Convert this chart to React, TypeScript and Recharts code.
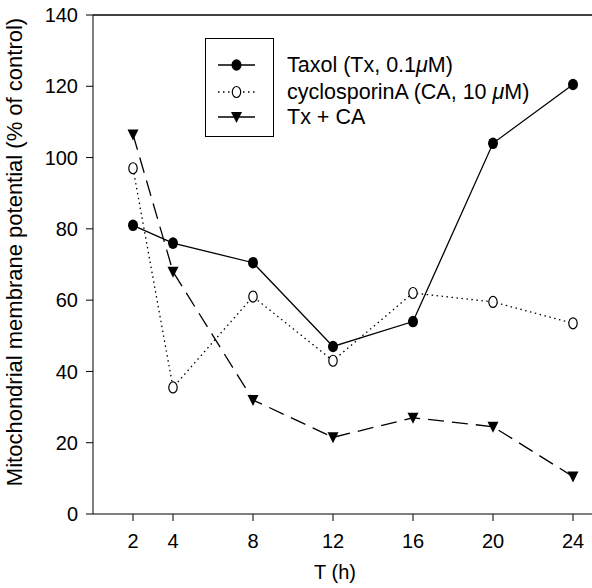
import React from "react";
import { LineChart, Line, XAxis, YAxis, ReferenceLine } from "recharts";

// time points (h) and the three series, % of control
const hours = [2, 4, 8, 12, 16, 20, 24];
const taxol = [81, 76, 70.5, 47, 54, 104, 120.5];
const cyclosporin = [97, 35.5, 61, 43, 62, 59.5, 53.5];
const combined = [106.5, 68, 32, 21.5, 27, 24.5, 10.5];

const xTicks = [2, 4, 8, 12, 16, 20, 24];
const yTicks = [0, 20, 40, 60, 80, 100, 120, 140];
const legendLabels = ["Taxol (Tx, 0.1μM)", "cyclosporinA (CA, 10 μM)", "Tx + CA"];

const data = hours.map((h, i) => ({
  h,
  taxol: taxol[i],
  ca: cyclosporin[i],
  txca: combined[i],
}));

const FONT = "'Liberation Sans', Arial, Helvetica, sans-serif";

const FilledDot = (props: any) => {
  const { cx, cy } = props;
  if (cx == null || cy == null) return null;
  return <ellipse cx={cx} cy={cy} rx={5} ry={5.8} fill="#000" />;
};

const OpenDot = (props: any) => {
  const { cx, cy } = props;
  if (cx == null || cy == null) return null;
  return (
    <ellipse cx={cx} cy={cy} rx={4.2} ry={5.5} fill="#fff" stroke="#000" strokeWidth={1.2} />
  );
};

const TriangleDot = (props: any) => {
  const { cx, cy } = props;
  if (cx == null || cy == null) return null;
  return (
    <path
      d={`M${cx - 5.5},${cy - 5} L${cx + 5.5},${cy - 5} L${cx},${cy + 6} Z`}
      fill="#000"
    />
  );
};

// split on μ so it can be set in italics like the original
const renderLabel = (s: string) =>
  s.split("μ").map((part, i) => (
    <React.Fragment key={i}>
      {i > 0 && <tspan fontStyle="italic">μ</tspan>}
      <tspan>{part}</tspan>
    </React.Fragment>
  ));

const LegendBox = () => {
  const rows = [
    { dash: undefined, marker: (x: number, y: number) => <FilledDot cx={x} cy={y} /> },
    { dash: "1.5 3.5", marker: (x: number, y: number) => <OpenDot cx={x} cy={y} /> },
    { dash: undefined, marker: (x: number, y: number) => <TriangleDot cx={x} cy={y} /> },
  ];
  const rowY = [65, 92, 117];
  return (
    <svg
      width={592}
      height={588}
      style={{ position: "absolute", left: 0, top: 0, pointerEvents: "none" }}
    >
      <rect x={205.5} y={38.5} width={68} height={98} fill="#fff" stroke="#000" strokeWidth={1} />
      {rows.map((r, i) => (
        <g key={i}>
          <line
            x1={218}
            x2={255}
            y1={rowY[i]}
            y2={rowY[i]}
            stroke="#000"
            strokeWidth={1.3}
            strokeDasharray={r.dash}
          />
          {r.marker(236.5, rowY[i])}
          <text x={287} y={rowY[i] + 7} fontSize={21.5} fontFamily={FONT} fill="#000">
            {renderLabel(legendLabels[i])}
          </text>
        </g>
      ))}
    </svg>
  );
};

export default function App() {
  return (
    <div style={{ position: "absolute", left: 0, top: 0, width: 592, height: 588, overflow: "hidden", background: "#fff" }}>
      <LineChart
        width={600}
        height={588}
        data={data}
        margin={{ top: 15, right: 7, left: 0, bottom: 0 }}
        style={{ fontFamily: FONT }}
      >
        <XAxis
          dataKey="h"
          type="number"
          domain={[0, 25]}
          ticks={xTicks}
          height={74}
          tickSize={7}
          tickMargin={13}
          stroke="#000"
          tick={{ fill: "#000", fontSize: 20 }}
          label={{
            content: () => (
              <text x={335} y={579} textAnchor="middle" fontSize={20} fill="#000" fontFamily={FONT}>
                T (h)
              </text>
            ),
          }}
        />
        <YAxis
          type="number"
          domain={[0, 140]}
          ticks={yTicks}
          width={93}
          tickSize={7}
          tickMargin={8}
          stroke="#000"
          tick={{ fill: "#000", fontSize: 20 }}
          label={{
            content: () => (
              <text
                x={22}
                y={252}
                transform="rotate(-90, 22, 252)"
                textAnchor="middle"
                fontSize={22}
                fill="#000"
                fontFamily={FONT}
              >
                Mitochondrial membrane potential (% of control)
              </text>
            ),
          }}
        />
        <ReferenceLine y={140} stroke="#000" strokeWidth={1.3} />
        <Line
          type="linear"
          dataKey="ca"
          stroke="#000"
          strokeWidth={1.3}
          strokeDasharray="1.5 3.5"
          dot={<OpenDot />}
          activeDot={false}
          isAnimationActive={false}
        />
        <Line
          type="linear"
          dataKey="txca"
          stroke="#000"
          strokeWidth={1.3}
          strokeDasharray="16 8"
          dot={<TriangleDot />}
          activeDot={false}
          isAnimationActive={false}
        />
        <Line
          type="linear"
          dataKey="taxol"
          stroke="#000"
          strokeWidth={1.3}
          dot={<FilledDot />}
          activeDot={false}
          isAnimationActive={false}
        />
      </LineChart>
      <LegendBox />
    </div>
  );
}
